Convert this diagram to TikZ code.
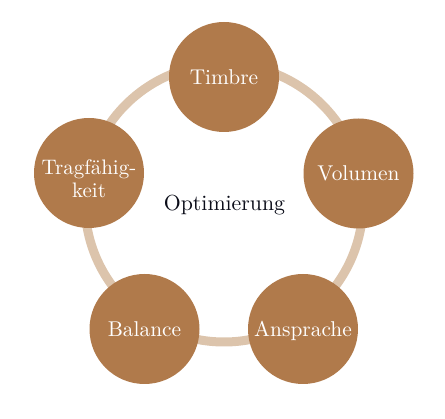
\documentclass[tikz,border=0pt]{standalone}
\usepackage{fontspec}
\setmainfont{lmroman10-regular.otf}
\definecolor{bubfill}{RGB}{176,122,75}
\definecolor{ringc}{RGB}{220,196,172}
\definecolor{centertext}{RGB}{10,12,24}
\tikzset{
  bub/.style={circle, fill=bubfill, draw=none, minimum size=110pt, inner sep=0pt,
    text=white, font=\fontsize{21.4}{23}\selectfont, text height=15pt, text depth=0pt},
  bubtext/.style={text=white, font=\fontsize{21}{23}\selectfont, inner sep=0pt, align=center},
  ring/.style={draw=ringc, line width=9pt},
  ctext/.style={text=centertext, font=\fontsize{21.8}{24}\selectfont, inner sep=0pt}
}
\begin{document}
\begin{tikzpicture}[x=1pt,y=-1pt]
\useasboundingbox (0,0) rectangle (445,419);
\coordinate (ringcenter) at (224,203);
\draw[ring] (ringcenter) circle[radius=139];
\node[bub] (timbre) at (224,77) {Timbre};
\node[bub] (volumen) at (358.5,173.5) {Volumen};
\node[bub] (ansprache) at (303,329) {Ansprache};
\node[bub] (balance) at (144.5,329) {Balance};
\node[bub] (trag) at (89,173) {};
\node[bubtext] (tragtext) at (89,178.3) {Tragfähig-\\keit};
\node[ctext] (opt) at (224.5,204.8) {Optimierung};
\end{tikzpicture}
\end{document}
